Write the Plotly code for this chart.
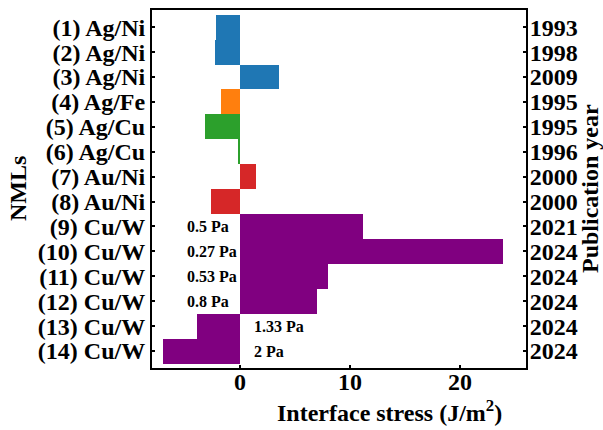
import plotly.graph_objects as go

labels = ["(1) Ag/Ni", "(2) Ag/Ni", "(3) Ag/Ni", "(4) Ag/Fe", "(5) Ag/Cu", "(6) Ag/Cu",
          "(7) Au/Ni", "(8) Au/Ni", "(9) Cu/W", "(10) Cu/W", "(11) Cu/W", "(12) Cu/W",
          "(13) Cu/W", "(14) Cu/W"]
stress = [-2.2, -2.25, 3.5, -1.75, -3.15, -0.18, 1.42, -2.64, 11.15, 23.95, 7.97, 6.97, -3.94, -6.97]
years = ["1993", "1998", "2009", "1995", "1995", "1996", "2000", "2000", "2021", "2024",
         "2024", "2024", "2024", "2024"]
systems = ["Ag/Ni", "Ag/Ni", "Ag/Ni", "Ag/Fe", "Ag/Cu", "Ag/Cu", "Au/Ni", "Au/Ni",
           "Cu/W", "Cu/W", "Cu/W", "Cu/W", "Cu/W", "Cu/W"]
pressure_labels = ["0.5 Pa", "0.27 Pa", "0.53 Pa", "0.8 Pa", "1.33 Pa", "2 Pa"]
pressure_rows = [8, 9, 10, 11, 12, 13]

system_colors = {"Ag/Ni": "#1f77b4", "Ag/Fe": "#ff7f0e", "Ag/Cu": "#2ca02c",
                 "Au/Ni": "#d62728", "Cu/W": "#800080"}
colors = [system_colors[s] for s in systems]

FONT = "Liberation Serif, Times New Roman, serif"
n = len(labels)
yrange = [n - 1 + 0.68, -0.69]
W, H = 603, 430
PL, PR, PT, PB = 152, 526, 10, 368

fig = go.Figure()
fig.add_trace(go.Bar(x=stress, y=list(range(n)), orientation="h", width=1.0,
                     marker=dict(color=colors, line=dict(width=0)), showlegend=False))
fig.add_trace(go.Scatter(x=[None], y=[None], yaxis="y2", showlegend=False, hoverinfo="skip"))

for row, txt in zip(pressure_rows, pressure_labels):
    xpos = -5.0 if stress[row] > 0 else 1.1
    fig.add_annotation(x=xpos, y=row, xref="x", yref="y", text=txt, showarrow=False,
                       xanchor="left", yanchor="middle",
                       font=dict(family=FONT, size=16, color="black", weight="bold"))


def px(xp, yp):
    return (xp - PL) / (PR - PL), (H - yp - (H - PB)) / (PB - PT)


title_font = dict(family=FONT, size=24, color="black", weight="bold")
for txt, (xp, yp), ang in [("Interface stress (J/m<sup>2</sup>)", (389, 411), 0),
                           ("NMLs", (18, 189), -90),
                           ("Publication year", (590, 189), -90)]:
    ax, ay = px(xp, yp)
    fig.add_annotation(text=txt, x=ax, y=ay, xref="paper", yref="paper", showarrow=False,
                       textangle=ang, xanchor="center", yanchor="middle", font=title_font)

axis_common = dict(showline=True, linecolor="black", linewidth=2, ticks="inside",
                   ticklen=3, tickwidth=2, tickcolor="black", showgrid=False, zeroline=False,
                   automargin=False,
                   tickfont=dict(family=FONT, size=24, color="black", weight="bold"))

fig.update_layout(
    width=W, height=H,
    margin=dict(l=PL, r=W - PR, t=PT, b=H - PB, autoexpand=False),
    plot_bgcolor="white", paper_bgcolor="white",
    bargap=0,
    xaxis=dict(range=[-8, 26], tickvals=[0, 10, 20], mirror=True, ticklabelstandoff=-9,
               **axis_common),
    yaxis=dict(range=yrange, tickvals=list(range(n)), ticktext=labels, mirror=True,
               **axis_common),
    yaxis2=dict(range=yrange, tickvals=list(range(n)), ticktext=years, overlaying="y",
                side="right", ticklabelstandoff=-3, **axis_common),
)

fig.write_html("out.html", config={"displayModeBar": False},
               post_script="document.body.style.margin='0px';")
